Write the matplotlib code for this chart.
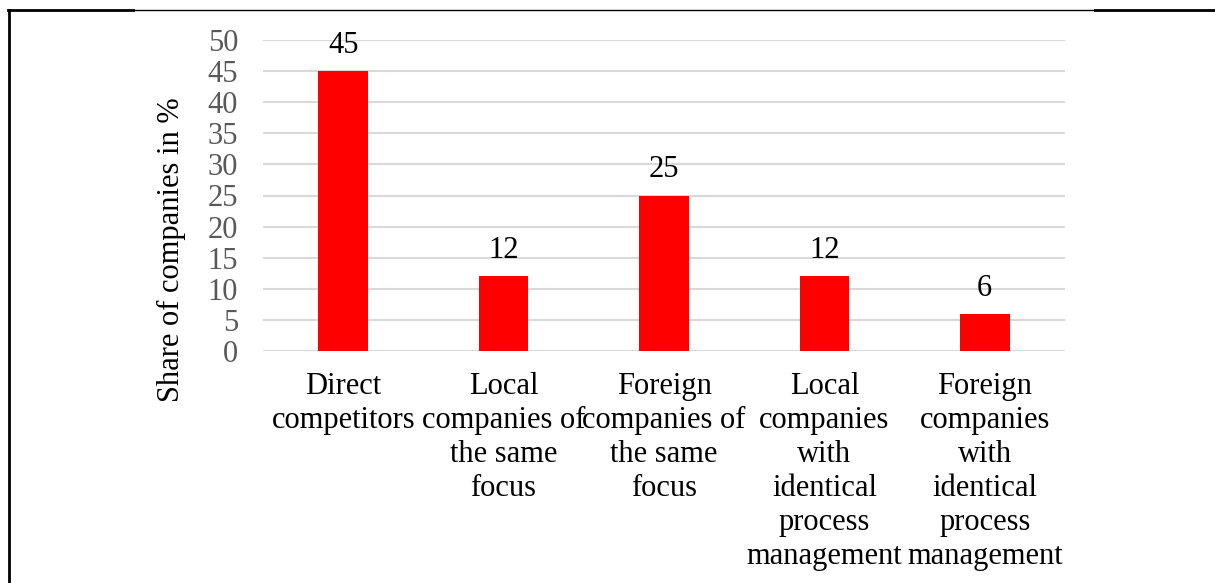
import matplotlib.pyplot as plt
from matplotlib.lines import Line2D

# Chart data
categories = ["Direct\ncompetitors",
              "Local\ncompanies of\nthe same\nfocus",
              "Foreign\ncompanies of\nthe same\nfocus",
              "Local\ncompanies\nwith\nidentical\nprocess\nmanagement",
              "Foreign\ncompanies\nwith\nidentical\nprocess\nmanagement"]
shares = [45, 12, 25, 12, 6]
yticks = [0, 5, 10, 15, 20, 25, 30, 35, 40, 45, 50]

plt.rcParams['font.family'] = ['Liberation Serif', 'DejaVu Serif']

W, H = 1215, 583
fig = plt.figure(figsize=(W / 100, H / 100), dpi=100)
ax = fig.add_axes([263 / W, 1 - 351 / H, (1065 - 263) / W, (351 - 40) / H])

x = range(len(categories))
bars = ax.bar(x, shares, width=0.31, color="#ff0000", zorder=3)
for b, v in zip(bars, shares):
    ax.annotate(str(v), (b.get_x() + b.get_width() / 2, v), xytext=(0, 8),
                textcoords="offset points", ha="center", va="bottom",
                fontsize=22, color="black")

ax.set_xlim(-0.5, len(categories) - 0.5)
ax.set_ylim(0, 50)
ax.set_yticks(yticks)
ax.yaxis.grid(True, color="#d9d9d9", lw=1.5, zorder=0)
ax.tick_params(axis="y", length=0, labelsize=22, labelcolor="#595959", pad=18)
ax.tick_params(axis="x", length=0, pad=15)
ax.set_xticks(list(x))
ax.set_xticklabels(categories, fontsize=22, linespacing=1.23, va="top")
for s in ax.spines.values():
    s.set_visible(False)
ax.set_ylabel("Share of companies in %", fontsize=22)
ax.yaxis.set_label_coords(-(263 - 186) / (1065 - 263), (351 - 250) / (351 - 40))

# Table cell borders around the chart
ty = 1 - 10 / H
fig.add_artist(Line2D([8 / W, 133 / W], [ty, ty], color="black", lw=2))
fig.add_artist(Line2D([133 / W, 1095 / W], [ty, ty], color="black", lw=1))
fig.add_artist(Line2D([1095 / W, 1], [ty, ty], color="black", lw=2))
fig.add_artist(Line2D([9 / W, 9 / W], [0, ty], color="black", lw=2))

fig.savefig("out.png", dpi=100)
